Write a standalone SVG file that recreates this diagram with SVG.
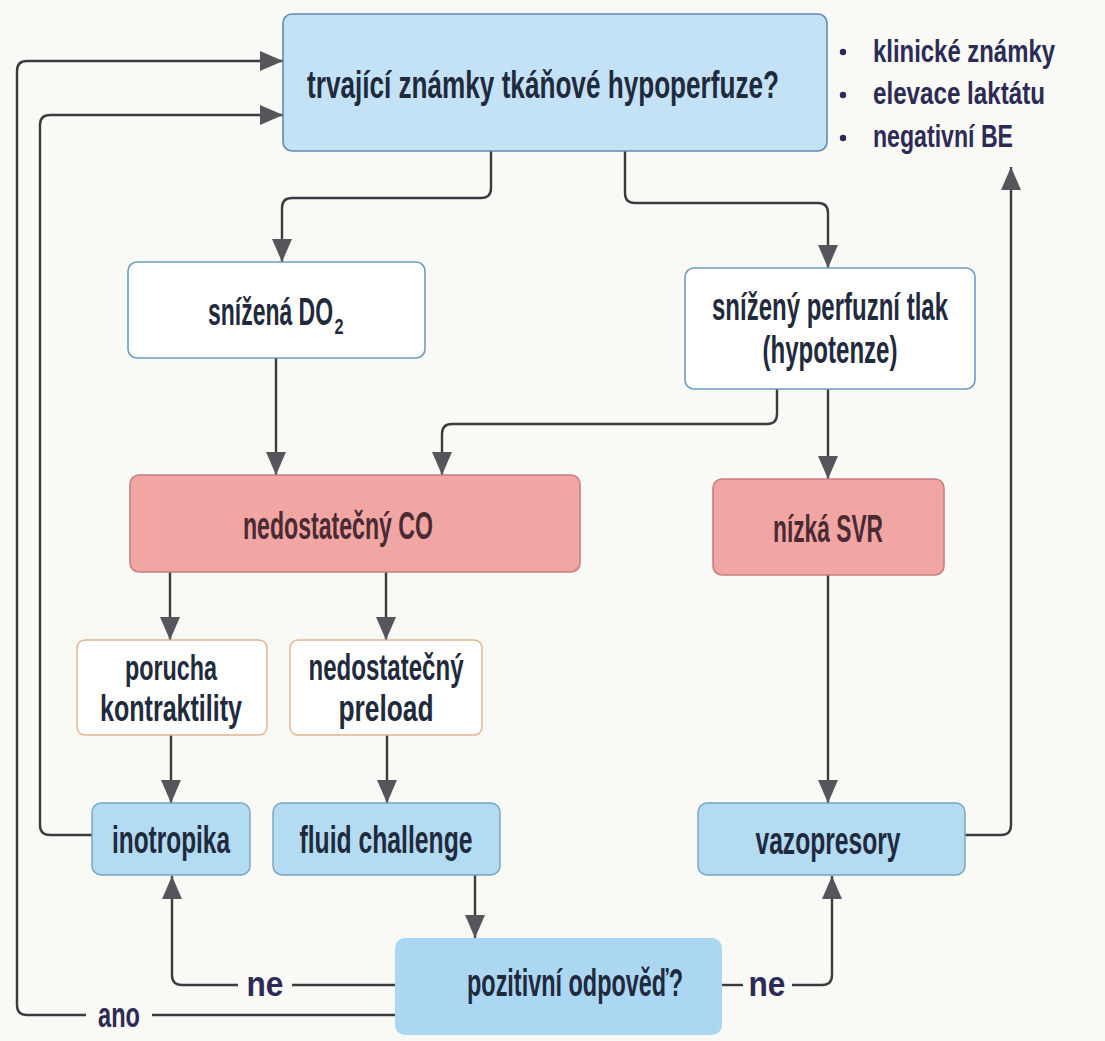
<svg xmlns="http://www.w3.org/2000/svg" width="1105" height="1041" viewBox="0 0 1105 1041">
<defs>
<style>
.t{font-family:"Liberation Sans",Arial,sans-serif;font-weight:bold;fill:#1f2a3d;text-anchor:middle;}
.n{font-size:38px;}
.m{font-size:36px;}
.rt{fill:#4a2a33;}
.s{text-anchor:start;}
.b{font-size:32px;text-anchor:start;fill:#2c2b55;}
.l{font-size:35px;fill:#2c2b55;}
.blue{fill:#c4e2f6;stroke:#5f8cb1;stroke-width:1.6;}
.white{fill:#ffffff;stroke:#6c9cc4;stroke-width:1.6;}
.red{fill:#f2a6a4;stroke:#c77f80;stroke-width:1.6;}
.orange{fill:#ffffff;stroke:#e2b48f;stroke-width:1.4;}
.cyan{fill:#b3dbf2;stroke:#7aa3bd;stroke-width:1.4;}
.c{fill:none;stroke:#3b3b40;stroke-width:2.4;}
</style>
<marker id="ah" markerUnits="userSpaceOnUse" markerWidth="26" markerHeight="22" refX="23" refY="10" orient="auto">
<path d="M0,0 L23,10 L0,20 z" fill="#55555c"/>
</marker>
</defs>
<rect width="1105" height="1041" fill="#f9f9f6"/>

<g id="connectors">
<path class="c" d="M395 1015 H152"/>
<path class="c" d="M86 1015 H27 Q17 1015 17 1005 V71 Q17 61 27 61 H283" marker-end="url(#ah)"/>
<path class="c" d="M92 835 H50 Q40 835 40 825 V125 Q40 115 50 115 H283" marker-end="url(#ah)"/>
<path class="c" d="M491 151 V188 Q491 198 481 198 H292 Q282 198 282 208 V262" marker-end="url(#ah)"/>
<path class="c" d="M625 151 V193 Q625 203 635 203 H818 Q828 203 828 213 V268" marker-end="url(#ah)"/>
<path class="c" d="M276 358 V475" marker-end="url(#ah)"/>
<path class="c" d="M777 389 V414 Q777 424 767 424 H452 Q442 424 442 434 V475" marker-end="url(#ah)"/>
<path class="c" d="M828 389 V479" marker-end="url(#ah)"/>
<path class="c" d="M170 572 V640" marker-end="url(#ah)"/>
<path class="c" d="M386 572 V640" marker-end="url(#ah)"/>
<path class="c" d="M171 735 V803" marker-end="url(#ah)"/>
<path class="c" d="M387 735 V803" marker-end="url(#ah)"/>
<path class="c" d="M828 575 V803" marker-end="url(#ah)"/>
<path class="c" d="M475 875 V938" marker-end="url(#ah)"/>
<path class="c" d="M395 985 H292"/>
<path class="c" d="M238 985 H182 Q172 985 172 975 V876" marker-end="url(#ah)"/>
<path class="c" d="M722 985 H743"/>
<path class="c" d="M792 985 H822 Q832 985 832 975 V876" marker-end="url(#ah)"/>
<path class="c" d="M965 835 H1001 Q1011 835 1011 825 V167" marker-end="url(#ah)"/>
<text class="t l" transform="translate(265,996) scale(0.9,1)" textLength="41" lengthAdjust="spacingAndGlyphs">ne</text>
<text class="t l" transform="translate(767,996) scale(0.9,1)" textLength="41" lengthAdjust="spacingAndGlyphs">ne</text>
<text class="t l" transform="translate(119,1027) scale(0.675,1)" textLength="62" lengthAdjust="spacingAndGlyphs">ano</text>
</g>

<g id="n-top">
<rect class="blue" x="283" y="14" width="544" height="137" rx="9"/>
<text class="t n" transform="translate(543,98) scale(0.688,1)" textLength="686" lengthAdjust="spacingAndGlyphs">trvající známky tkáňové hypoperfuze?</text>
</g>

<g id="n-signs">
<circle cx="843" cy="52" r="3.2" fill="#2c2b55"/>
<circle cx="843" cy="95" r="3.2" fill="#2c2b55"/>
<circle cx="843" cy="138" r="3.2" fill="#2c2b55"/>
<text class="t b" transform="translate(873,62) scale(0.747,1)" textLength="243.6" lengthAdjust="spacingAndGlyphs">klinické známky</text>
<text class="t b" transform="translate(873,104) scale(0.755,1)" textLength="227.8" lengthAdjust="spacingAndGlyphs">elevace laktátu</text>
<text class="t b" transform="translate(873,147) scale(0.722,1)" textLength="193.9" lengthAdjust="spacingAndGlyphs">negativní BE</text>
</g>

<g id="n-do2">
<rect class="white" x="128" y="262" width="297" height="96" rx="9"/>
<text class="t n s" transform="translate(208,325) scale(0.604,1)" textLength="207" lengthAdjust="spacingAndGlyphs">snížená DO</text>
<text class="t s" transform="translate(334.5,334) scale(0.74,1)" font-size="22" textLength="12.2" lengthAdjust="spacingAndGlyphs">2</text>
</g>

<g id="n-perf">
<rect class="white" x="685" y="268" width="290" height="121" rx="9"/>
<text class="t n" transform="translate(830,320) scale(0.631,1)" textLength="374" lengthAdjust="spacingAndGlyphs">snížený perfuzní tlak</text>
<text class="t n" transform="translate(830,363) scale(0.633,1)" textLength="213.3" lengthAdjust="spacingAndGlyphs">(hypotenze)</text>
</g>

<g id="n-co">
<rect class="red" x="130" y="475" width="450" height="97" rx="9"/>
<text class="t n rt" transform="translate(338,539) scale(0.609,1)" textLength="312" lengthAdjust="spacingAndGlyphs">nedostatečný CO</text>
</g>

<g id="n-svr">
<rect class="red" x="713" y="479" width="231" height="96" rx="9"/>
<text class="t n rt" transform="translate(828,542) scale(0.599,1)" textLength="183.6" lengthAdjust="spacingAndGlyphs">nízká SVR</text>
</g>

<g id="n-kontr">
<rect class="orange" x="77" y="640" width="190" height="95" rx="8"/>
<text class="t m" transform="translate(171,680) scale(0.648,1)" textLength="142" lengthAdjust="spacingAndGlyphs">porucha</text>
<text class="t m" transform="translate(171,721) scale(0.696,1)" textLength="204" lengthAdjust="spacingAndGlyphs">kontraktility</text>
</g>

<g id="n-preload">
<rect class="orange" x="290" y="640" width="192" height="95" rx="8"/>
<text class="t m" transform="translate(386,680) scale(0.669,1)" textLength="231.7" lengthAdjust="spacingAndGlyphs">nedostatečný</text>
<text class="t m" transform="translate(386,721) scale(0.730,1)" textLength="130.1" lengthAdjust="spacingAndGlyphs">preload</text>
</g>

<g id="n-ino">
<rect class="cyan" x="92" y="803" width="158" height="72" rx="9"/>
<text class="t n" transform="translate(171,853) scale(0.642,1)" textLength="183.8" lengthAdjust="spacingAndGlyphs">inotropika</text>
</g>

<g id="n-fluid">
<rect class="cyan" x="273" y="803" width="227" height="72" rx="9"/>
<text class="t n" transform="translate(386,853) scale(0.65,1)" textLength="266.2" lengthAdjust="spacingAndGlyphs">fluid challenge</text>
</g>

<g id="n-vazo">
<rect class="cyan" x="698" y="803" width="267" height="72" rx="9"/>
<text class="t n" transform="translate(828,854) scale(0.648,1)" textLength="223.8" lengthAdjust="spacingAndGlyphs">vazopresory</text>
</g>

<g id="n-poz">
<rect x="395" y="938" width="327" height="97" rx="10" fill="#acd7f3"/>
<text class="t n" transform="translate(575,996) scale(0.618,1)" textLength="349.5" lengthAdjust="spacingAndGlyphs">pozitivní odpověď?</text>
</g>
</svg>
